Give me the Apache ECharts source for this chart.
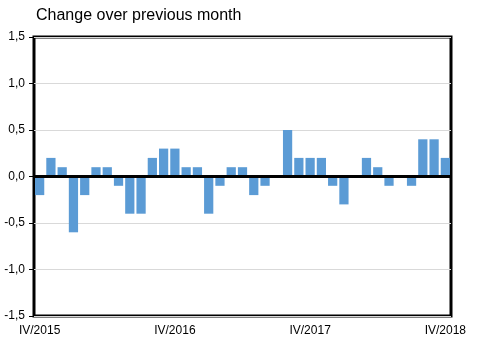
<!DOCTYPE html>
<html><head><meta charset="utf-8">
<script src="https://cdn.jsdelivr.net/npm/echarts@6/dist/echarts.min.js"></script>
<style>html,body{margin:0;padding:0;background:#fff}#c{width:479px;height:351px}</style>
</head><body><div id="c"></div>
<script>
var titleText = "Change over previous month";
var romanMonths = ["I","II","III","IV","V","VI","VII","VIII","IX","X","XI","XII"];
var startYear = 2015, startMonth = 4, monthCount = 37;
var categories = [];
for (var i = 0; i < monthCount; i++) {
  var m = (startMonth - 1 + i) % 12, y = startYear + Math.floor((startMonth - 1 + i) / 12);
  categories.push(romanMonths[m] + "/" + y);
}
var values = [-0.2,0.2,0.1,-0.6,-0.2,0.1,0.1,-0.1,-0.4,-0.4,0.2,0.3,
              0.3,0.1,0.1,-0.4,-0.1,0.1,0.1,-0.2,-0.1,0,0.5,0.2,
              0.2,0.2,-0.1,-0.3,0,0.2,0.1,-0.1,0,-0.1,0.4,0.4,0.2];
var yMin = -1.5, yMax = 1.5, yStep = 0.5;

var chart = echarts.init(document.getElementById('c'));
chart.setOption({
  animation: false,
  title: {text: titleText, left: 36, top: 8, padding: 0,
    textStyle: {fontFamily: 'Liberation Sans', fontSize: 16, fontWeight: 'normal', color: '#000'}},
  grid: {left: 34, right: 28, top: 37, bottom: 35, show: true, borderColor: '#000', borderWidth: 3, backgroundColor: 'transparent'},
  xAxis: {type: 'category', data: categories,
    axisLine: {show: false}, axisTick: {show: false},
    axisLabel: {interval: 11, margin: 9, color: '#000', fontFamily: 'Liberation Sans', fontSize: 12}},
  yAxis: {type: 'value', min: yMin, max: yMax, interval: yStep,
    axisLine: {show: false},
    axisTick: {show: true, length: 5, lineStyle: {color: '#000'}},
    splitLine: {lineStyle: {color: '#d9d9d9', width: 1}},
    axisLabel: {margin: 9, color: '#000', fontFamily: 'Liberation Sans', fontSize: 12,
      formatter: function (v) { return v.toFixed(1).replace('.', ','); }}},
  series: [{type: 'bar', data: values, barCategoryGap: '18%',
    itemStyle: {color: '#5b9bd5'},
    markLine: {silent: true, symbol: 'none', label: {show: false},
      lineStyle: {color: '#000', width: 3, type: 'solid'}, data: [{yAxis: 0}]}}]
});
</script></body></html>
